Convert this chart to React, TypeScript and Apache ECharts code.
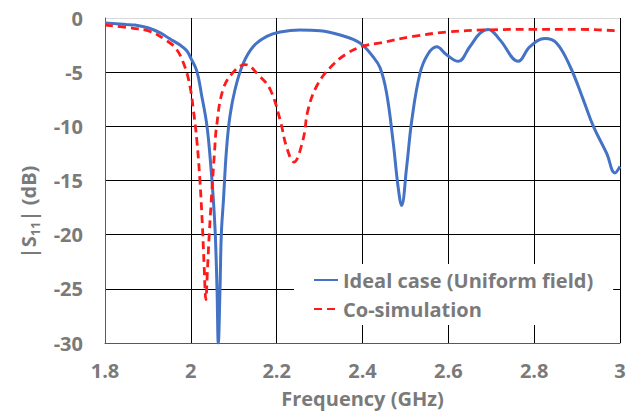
import React, { useEffect, useRef } from "react";
import * as echarts from "echarts";

const freqIdeal = [1.8, 1.85, 1.87, 1.9, 1.93, 1.95, 1.975, 1.99, 2.0, 2.014, 2.025, 2.037, 2.045, 2.052, 2.057, 2.061, 2.064, 2.068, 2.071, 2.076, 2.083, 2.091, 2.103, 2.122, 2.146, 2.177, 2.208, 2.254, 2.301, 2.348, 2.394, 2.425, 2.441, 2.456, 2.471, 2.483, 2.491, 2.503, 2.515, 2.534, 2.553, 2.573, 2.596, 2.623, 2.65, 2.674, 2.693, 2.72, 2.763, 2.79, 2.825, 2.852, 2.884, 2.915, 2.938, 2.969, 2.988, 3.0];
const s11Ideal = [-0.45, -0.6, -0.65, -0.9, -1.4, -1.9, -2.5, -3.0, -3.7, -4.9, -7.1, -9.8, -12.9, -16.5, -20, -25, -30, -25, -20, -16.8, -12.2, -9.1, -6.6, -4.2, -2.6, -1.7, -1.3, -1.1, -1.17, -1.57, -2.3, -3.6, -4.6, -6.9, -11.3, -15.6, -17.3, -13.7, -9.4, -5.1, -3.3, -2.65, -3.4, -4.0, -2.65, -1.4, -1.05, -2.0, -4.0, -2.65, -1.9, -2.3, -4.5, -7.6, -10, -12.5, -14.3, -13.7];

const freqCosim = [1.8, 1.866, 1.905, 1.944, 1.967, 1.986, 1.998, 2.006, 2.014, 2.021, 2.027, 2.031, 2.035, 2.039, 2.043, 2.049, 2.055, 2.06, 2.075, 2.099, 2.126, 2.161, 2.185, 2.208, 2.223, 2.24, 2.261, 2.273, 2.293, 2.324, 2.363, 2.401, 2.441, 2.518, 2.596, 2.689, 2.797, 2.907, 2.992, 3.0];
const s11Cosim = [-0.65, -0.95, -1.25, -2.1, -2.9, -4.5, -6.3, -8.5, -11.3, -14.9, -19.2, -22.9, -26.0, -23, -19.9, -16, -12.5, -10, -6.6, -5.0, -4.3, -5.4, -6.6, -9.4, -11.9, -13.3, -11.3, -8.5, -6.3, -4.6, -3.3, -2.6, -2.3, -1.7, -1.3, -1.1, -1.05, -1.05, -1.17, -1.18];

const seriesNames = ["Ideal case (Uniform field)", "Co-simulation"];
const xTicks = { min: 1.8, max: 3, interval: 0.2 };
const yTicks = { min: -30, max: 0, interval: 5 };

const FONT = "Open Sans";
const GRAY = "#7a7a7a";
const FS = 20;

export default function App() {
  const ref = useRef<HTMLDivElement>(null);
  useEffect(() => {
    if (!ref.current) return;
    const chart = echarts.init(ref.current, null, { renderer: "svg" });
    const zip = (xs: number[], ys: number[]) => xs.map((x, i) => [x, ys[i]]);
    chart.setOption({
      animation: false,
      backgroundColor: "#ffffff",
      grid: { left: 105, right: 20, top: 18, bottom: 71 },
      xAxis: {
        type: "value",
        min: xTicks.min,
        max: xTicks.max,
        interval: xTicks.interval,
        name: "Frequency (GHz)",
        nameLocation: "middle",
        nameGap: 45,
        nameTextStyle: { fontFamily: FONT, fontWeight: "bold", fontSize: FS, color: GRAY },
        axisLine: { show: true, onZero: false, lineStyle: { color: "#595959", width: 1 } },
        axisTick: { show: false },
        axisLabel: {
          fontFamily: FONT,
          fontWeight: "bold",
          fontSize: FS,
          color: GRAY,
          margin: 17,
          formatter: (v: number) => String(Math.round(v * 10) / 10),
        },
        splitLine: { show: true, lineStyle: { color: "#000000", width: 1 } },
      },
      yAxis: {
        type: "value",
        min: yTicks.min,
        max: yTicks.max,
        interval: yTicks.interval,
        axisLine: { show: true, onZero: false, lineStyle: { color: "#595959", width: 1 } },
        axisTick: { show: false },
        axisLabel: {
          fontFamily: FONT,
          fontWeight: "bold",
          fontSize: FS,
          color: GRAY,
          margin: 22,
        },
        splitLine: {
          show: true,
          lineStyle: {
            color: ["#000000", "#000000", "#000000", "#000000", "#000000", "#000000", "#d9d9d9"],
            width: 1,
          },
        },
      },
      legend: {
        show: true,
        orient: "vertical",
        left: 294,
        top: 264,
        backgroundColor: "#ffffff",
        padding: [6, 20, 6, 19],
        itemGap: 9,
        itemWidth: 24,
        itemHeight: 14,
        textStyle: { fontFamily: FONT, fontWeight: "bold", fontSize: FS, color: GRAY },
        data: seriesNames,
      },
      graphic: [
        {
          type: "text",
          x: 28,
          y: 212,
          rotation: Math.PI / 2,
          style: {
            text: "{a||S}{b|11}{a|| (dB)}",
            align: "center",
            verticalAlign: "middle",
            fill: GRAY,
            rich: {
              a: { fontFamily: FONT, fontWeight: "bold", fontSize: FS, fill: GRAY, lineHeight: 26, verticalAlign: "middle" },
              b: { fontFamily: FONT, fontWeight: "bold", fontSize: 13, fill: GRAY, lineHeight: 26, verticalAlign: "bottom" },
            },
          },
        },
      ],
      series: [
        {
          name: seriesNames[0],
          type: "line",
          data: zip(freqIdeal, s11Ideal),
          showSymbol: false,
          symbol: "none",
          smooth: 0.4,
          lineStyle: { color: "#4472C4", width: 3 },
          itemStyle: { color: "rgba(0,0,0,0)" },
          z: 3,
        },
        {
          name: seriesNames[1],
          type: "line",
          data: zip(freqCosim, s11Cosim),
          showSymbol: false,
          symbol: "none",
          smooth: 0.4,
          lineStyle: { color: "#ff1a1a", width: 2.8, type: [8, 5] },
          itemStyle: { color: "rgba(0,0,0,0)" },
          z: 4,
        },
      ],
    });
    return () => chart.dispose();
  }, []);
  return <div ref={ref} style={{ width: 640, height: 414, position: "absolute", left: 0, top: 0 }} />;
}
